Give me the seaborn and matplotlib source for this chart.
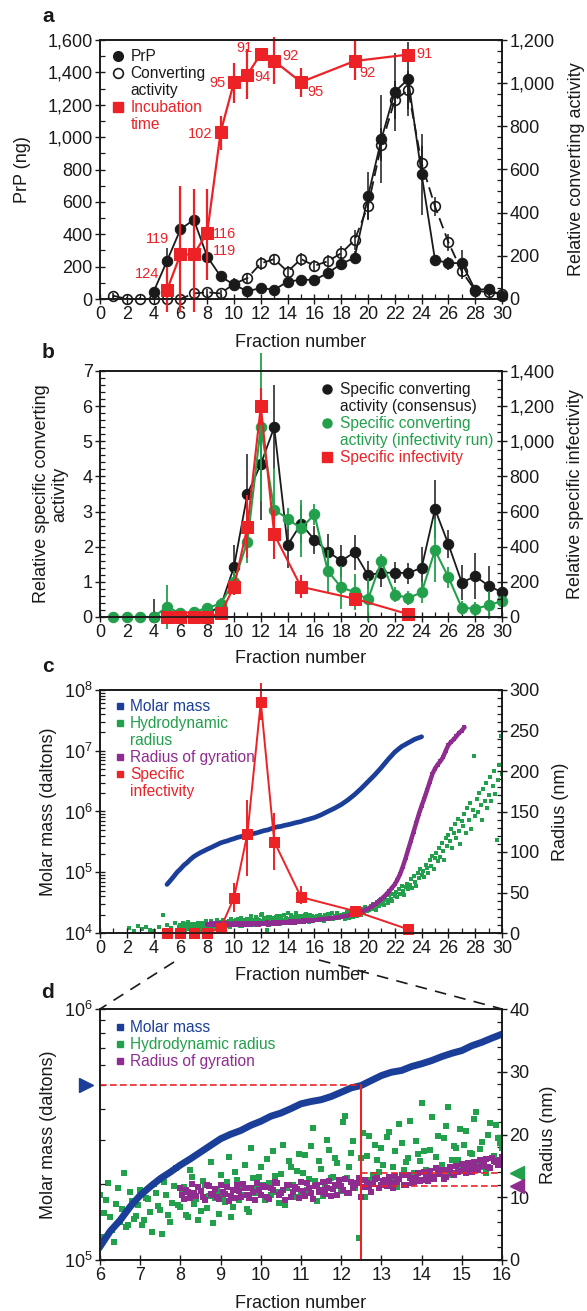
import numpy as np
import pandas as pd
import matplotlib
matplotlib.use('Agg')
import matplotlib.pyplot as plt
import seaborn as sns
from matplotlib.lines import Line2D
from matplotlib.ticker import MultipleLocator, FuncFormatter, FixedLocator, NullFormatter, NullLocator, LogLocator
import matplotlib.transforms as mtransforms

# ---------------- data ----------------
# panel a
frac_a = list(range(1, 31))
prp_ng = [np.nan, np.nan, np.nan, 45, 235, 430, 490, 262, 140, 88, 48, 68, 57, 107, 119, 118, 160, 217, 255,
          635, 988, 1280, 1358, 770, 242, 222, 222, 56, 62, 21]
prp_err = [0, 0, 0, 20, 80, 60, 40, 30, 20, 20, 15, 15, 15, 20, 20, 20, 30, 40, 40,
           150, 270, 240, 230, 250, 30, 40, 80, 20, 15, 10]
conv_act = [15, 0, 0, 0, 0, 0, 26, 31, 26, 70, 97, 165, 185, 127, 185, 154, 175, 212, 273,
            432, 715, 922, 968, 629, 429, 263, 128, 39, 31, 23]
conv_err = [15, 10, 10, 10, 10, 10, 15, 15, 15, 25, 25, 30, 25, 25, 30, 25, 30, 35, 45,
            60, 75, 90, 90, 80, 45, 40, 35, 15, 15, 10]
inc_frac = [5, 6, 7, 8, 9, 10, 11, 12, 13, 15, 19, 23]
inc_pos = [55, 275, 275, 410, 1030, 1340, 1385, 1515, 1470, 1340, 1470, 1510]
inc_lo = [135, 355, 355, 290, 110, 130, 150, 0, 140, 90, 120, 0]
inc_hi = [145, 425, 405, 270, 100, 120, 160, 0, 150, 90, 130, 0]
inc_days = ['124', '119', '119', '116', '102', '95', '94', '91', '92', '95', '92', '91']
inc_lab_x = [3.5, 4.3, 9.3, 9.3, 7.5, 8.8, 12.1, 10.75, 14.2, 16.1, 20.0, 24.2]
inc_lab_y = [155, 370, 295, 400, 1022, 1337, 1372, 1553, 1502, 1276, 1399, 1512]

# panel b
frac_b_cons = list(range(4, 31))
spec_cons = [0, 0, 0, 0.05, 0.1, 0.3, 1.43, 3.5, 4.35, 5.4, 2.05, 2.65, 2.2, 1.86, 1.6, 1.84, 1.19, 1.26, 1.26,
             1.25, 1.4, 3.07, 2.07, 0.98, 1.16, 0.89, 0.7]
spec_cons_err = [0.5, 0, 0, 0, 0, 0.1, 0.62, 1.15, 1.6, 1.2, 0.65, 0.55, 0.4, 0.5, 0.45, 0.5, 0.4, 0.4, 0.3,
                 0.3, 0.6, 0.82, 0.4, 0.5, 0.65, 0.55, 0.3]
frac_b_inf = list(range(1, 31))
spec_infrun = [0, 0, 0, 0, 0.29, 0.1, 0.14, 0.26, 0.38, 1.0, 2.14, 5.41, 3.05, 2.8, 2.52, 2.92, 1.31, 0.84, 0.71,
               0.5, 1.59, 0.64, 0.54, 0.7, 1.9, 1.13, 0.26, 0.24, 0.33, 0.46]
spec_infrun_err = [0, 0, 0, 0, 0.62, 0, 0, 0.1, 0.15, 0.3, 0.6, 2.1, 1.2, 0.3, 0.8, 0.3, 0.6, 0.6, 0.5,
                   0.6, 0.2, 0.2, 0.2, 0.3, 0.9, 0.3, 0.2, 0.2, 0.4, 0.2]
sinf_frac = [5, 6, 7, 8, 9, 10, 11, 12, 13, 15, 19, 23]
sinf_b = [0, 0, 0, 0, 20, 172, 514, 1200, 470, 172, 104, 16]
sinf_b_err = [0, 0, 0, 0, 0, 45, 180, 105, 140, 65, 30, 0]

# panel c / d  (MALS slices)
inf_c_val = [1.0e4, 1.0e4, 1.0e4, 1.0e4, 1.2e4, 3.8e4, 4.3e5, 6.4e7, 3.2e5, 3.9e4, 2.3e4, 1.15e4]
inf_c_lo = [1.0e4, 1.0e4, 1.0e4, 1.0e4, 1.2e4, 2.2e4, 8.6e4, 3.2e7, 1.1e5, 3.0e4, 2.3e4, 1.15e4]
inf_c_hi = [1.0e4, 1.0e4, 1.0e4, 1.0e4, 1.2e4, 6.7e4, 1.55e6, 1.3e8, 9.4e5, 5.9e4, 2.3e4, 1.15e4]

mm_early_frac = [5.0, 5.25, 5.5, 5.75]
mm_early = [6.3e4, 7.3e4, 8.5e4, 1.0e5]
mm_mid = [1.13e5, 1.30e5, 1.44e5, 1.63e5, 1.81e5, 1.96e5, 2.11e5, 2.24e5, 2.39e5, 2.53e5,
          2.69e5, 2.86e5, 3.04e5, 3.17e5, 3.28e5, 3.44e5, 3.57e5, 3.74e5, 3.85e5, 4.01e5,
          4.19e5, 4.28e5, 4.35e5, 4.48e5, 4.66e5, 4.85e5, 4.96e5, 5.19e5, 5.43e5, 5.60e5,
          5.69e5, 5.90e5, 6.05e5, 6.23e5, 6.46e5, 6.66e5, 6.83e5, 7.14e5, 7.37e5, 7.66e5, 7.94e5]
mm_late = [8.8e5, 1.0e6, 1.13e6, 1.3e6, 1.55e6, 1.9e6, 2.4e6, 3.1e6, 4.0e6, 5.3e6, 7.2e6, 9.5e6,
           1.17e7, 1.35e7, 1.55e7, 1.7e7]

rh_early_frac = [2.2, 2.5, 2.8, 3.1, 3.4, 3.7, 4.0, 4.4, 4.7, 5.0, 5.3, 5.6, 5.9]
rh_early = [6, 3, 9, 5, 8, 4, 2, 7, 22, 10, 6, 12, 8]
rh_pass1 = [10.3, 7.5, 12.2, 4.8, 8.9, 6.1, 13.9, 5.6, 9.4, 7.0,
            11.2, 6.4, 9.8, 4.5, 10.6, 8.0, 12.5, 7.2, 9.1, 14.6,
            8.4, 11.6, 6.9, 13.3, 9.7, 7.8, 12.0, 10.2, 5.9, 11.0,
            13.6, 9.2, 16.4, 8.5, 12.8, 10.4, 15.1, 7.7, 13.0, 11.4,
            14.9, 9.6, 12.2, 17.3, 10.8, 13.7, 8.8, 15.8, 11.9, 14.2,
            10.5, 16.7, 12.9, 21.0, 9.4, 14.5, 11.6, 17.6, 13.2, 15.4,
            11.0, 23.0, 14.8, 18.9, 12.3, 16.2, 10.1, 19.7, 13.5, 15.9,
            17.8, 12.4, 20.4, 14.9, 11.7, 18.6, 15.6, 22.1, 13.8, 16.9,
            25.0, 14.3, 17.5, 12.9, 19.8, 15.2, 21.3, 13.6, 18.2, 16.0,
            14.7, 20.6, 17.1, 22.4, 15.5, 18.8, 13.9, 21.9, 16.6, 19.4,
            17.9]
rh_pass2 = [3.7, 9.6, 6.8, 2.9, 11.4, 8.2, 5.2, 10.8, 6.6, 8.7,
            5.5, 9.9, 7.6, 12.1, 8.6, 4.2, 10.4, 6.0, 11.8, 8.8,
            10.9, 7.1, 14.4, 9.0, 6.3, 12.6, 8.3, 15.6, 9.9, 7.4,
            10.1, 12.4, 6.8, 14.0, 9.5, 11.7, 8.1, 17.8, 10.6, 13.2,
            12.0, 16.1, 10.3, 13.4, 9.1, 18.4, 11.5, 14.8, 10.0, 16.9,
            13.9, 11.2, 18.1, 12.6, 15.8, 10.2, 19.2, 13.0, 16.3, 11.8,
            22.0, 13.1, 17.0, 11.4, 3.5, 20.3, 16.6, 12.7, 18.4, 14.1,
            15.2, 19.6, 13.3, 17.4, 21.6, 14.4, 16.3, 12.5, 19.0, 15.7,
            17.3, 13.8, 22.8, 16.4, 14.6, 19.5, 24.4, 15.9, 17.8, 20.9,
            18.3, 15.1, 16.9, 23.6, 17.7, 14.8, 19.9, 16.2, 21.5, 18.6]
rh_late = [15.5, 20.8, 17.9, 22.4, 16.3, 19.6, 14.9, 21.7, 18.5, 23.0,
           17.2, 20.1, 24.3, 16.8, 21.5, 19.0, 25.1, 18.0, 22.6, 20.4,
           19.3, 23.8, 17.7, 25.6, 21.0, 18.9, 26.4, 22.2, 20.0, 27.3,
           23.1, 20.6, 28.0, 25.2, 21.9, 29.4, 24.5, 31.6, 26.8, 30.2,
           27.9, 33.5, 29.3, 36.0, 31.2, 28.4, 37.8, 33.1, 40.5, 35.7,
           38.9, 34.6, 43.0, 40.2, 37.1, 46.3, 41.8, 39.0, 48.7, 45.1,
           50.2, 44.6, 53.9, 47.8, 58.1, 51.5, 46.9, 56.4, 61.0, 54.7,
           59.8, 66.5, 55.3, 70.2, 63.1, 58.6, 74.0, 67.4, 79.5, 71.9,
           76.8, 69.0, 84.2, 80.1, 73.5, 89.6, 83.0, 95.4, 78.9, 92.7,
           98.2, 88.5, 105.1, 94.0, 111.6, 101.7, 90.2, 116.9, 107.3, 121.5,
           113.0, 128.4, 104.6, 123.7, 134.9, 117.2, 141.0, 125.8, 110.4, 138.6,
           131.5, 147.3, 122.9, 154.8, 139.1, 160.2, 128.7, 151.4, 219.0, 144.6,
           166.0, 149.8, 172.5, 158.3, 139.9, 178.1, 162.7, 185.6, 154.0, 170.9,
           192.4, 163.2, 181.0, 199.7, 171.6, 115.0, 188.3, 207.5, 243.0, 196.1]
rg_pass1 = [11.5, 9.8, 10.9, 12.1, 10.2, 11.0, 9.6, 11.8, 10.4, 10.0,
            11.9, 10.5, 9.4, 11.2, 12.0, 10.1, 11.4, 9.9, 10.8, 12.3,
            10.3, 11.6, 9.7, 11.1, 12.2, 10.6, 9.5, 11.9, 10.9, 11.3,
            12.4, 10.2, 11.5, 9.8, 12.0, 11.1, 10.5, 12.6, 11.3, 10.4,
            11.8, 12.9, 10.7, 11.5, 12.3, 10.0, 12.7, 11.6, 12.1, 13.0,
            11.9, 12.8, 13.3, 11.4, 12.5, 13.6, 12.0, 13.1, 12.4, 13.8,
            12.7, 13.5, 14.2, 12.9, 13.9, 14.4, 13.2, 14.8, 13.6, 14.1,
            15.3, 13.9, 14.6, 15.6, 14.3, 15.0, 16.1, 14.7, 15.8, 15.2,
            16.4]
rg_pass2 = [10.3, 11.2, 9.9, 10.7, 11.6, 10.1, 12.0, 10.5, 11.3, 9.7,
            10.8, 11.7, 10.2, 9.9, 11.0, 12.1, 10.4, 11.5, 9.6, 11.1,
            11.8, 10.0, 11.4, 12.5, 10.3, 11.2, 12.0, 10.1, 11.7, 9.9,
            11.0, 12.2, 10.6, 11.8, 10.9, 12.5, 11.4, 10.2, 11.9, 12.7,
            11.2, 10.6, 12.4, 11.9, 13.1, 11.7, 12.2, 10.8, 12.9, 11.5,
            12.6, 11.8, 12.2, 13.4, 12.9, 11.9, 13.5, 12.3, 13.0, 12.6,
            14.0, 12.6, 13.3, 14.6, 13.7, 12.9, 14.3, 13.8, 15.0, 14.2,
            14.5, 15.5, 14.0, 14.9, 15.9, 15.4, 14.8, 16.3, 15.6, 16.0]
rg_late = [16.5, 16.7, 17.1, 17.4, 17.8, 18.2, 18.6, 19.1, 19.5, 20.0,
           20.6, 21.2, 22.0, 22.8, 23.8, 24.9, 26.0, 27.3, 28.7, 30.2,
           32.0, 34.0, 36.3, 39.0, 42.0, 45.0, 48.5, 52.0, 56.0, 60.0,
           66, 73, 82, 92, 103, 114, 125, 136, 147, 157,
           166, 176, 186, 196, 203, 208, 212, 217, 225, 232,
           236, 239, 243, 247, 250, 254]

frac_mark = 12.5
mm_mark = 4.96e5
rh_mark = 13.9
rg_mark = 11.8


def slices(start, step, values):
    """fraction positions of consecutive detector slices"""
    return list(np.round(start + step * np.arange(len(values)), 3))


mm_frac = mm_early_frac + slices(6.0, 0.25, mm_mid) + slices(16.5, 0.5, mm_late)
mm_val = mm_early + mm_mid + mm_late
rh_frac = rh_early_frac + slices(6.0, 0.1, rh_pass1) + slices(6.05, 0.1, rh_pass2) + slices(16.1, 0.1, rh_late)
rh_val = rh_early + rh_pass1 + rh_pass2 + rh_late
rg_late_frac = slices(16.2, 0.2, rg_late)
rg_frac = slices(8.0, 0.1, rg_pass1) + slices(8.05, 0.1, rg_pass2) + rg_late_frac
rg_val = rg_pass1 + rg_pass2 + rg_late

# ---------------- style ----------------
sns.set_theme(style='ticks')
plt.rcParams['font.family'] = ['Liberation Sans', 'DejaVu Sans']
plt.rcParams['mathtext.fontset'] = 'custom'
plt.rcParams['mathtext.rm'] = 'Liberation Sans'
plt.rcParams['mathtext.default'] = 'regular'

INK = '#1a1a1a'
RED = '#ec2227'
GREEN = '#22a04b'
BLUE = '#1b3f98'
PURPLE = '#8e2c8f'
TICK = 13
LAB = 13
LEG = 11.2

fig = plt.figure(figsize=(5.87, 13.11), dpi=100)
L, W = 100 / 587, 402 / 587


def style_axes(ax, ax2):
    for a in (ax, ax2):
        a.tick_params(which='major', direction='inout', length=7.5, width=1.0, labelsize=TICK, color=INK,
                      labelcolor=INK, pad=1.5)
        a.tick_params(which='minor', direction='in', length=3.5, width=0.9, color=INK)
        for s in a.spines.values():
            s.set_linewidth(1.2)
            s.set_color(INK)
    ax.tick_params(axis='y', which='both', left=True, right=False)
    ax.tick_params(axis='x', which='both', bottom=True, top=False)
    ax2.tick_params(axis='y', which='both', left=False, right=True)


def legend(ax, entries, anchor, hl=0.8):
    handles, labels, colors = [], [], []
    for lab, col, h in entries:
        if h is None:
            h = Line2D([], [], ls='none', marker='None')
        handles.append(h)
        labels.append(lab)
        colors.append(col)
    leg = ax.legend(handles, labels, loc='upper left', bbox_to_anchor=anchor, frameon=False, borderpad=0,
                    borderaxespad=0, handlelength=hl, handletextpad=0.4, labelspacing=0.13, fontsize=LEG)
    for t, c in zip(leg.get_texts(), colors):
        t.set_color(c)
    return leg


comma = FuncFormatter(lambda v, p: f'{v:,.0f}')

# ================= panel a =================
axa = fig.add_axes([L, 1 - 299 / 1311, W, 259 / 1311])
axa2 = axa.twinx()
axa.set_zorder(axa2.get_zorder() + 1)
axa.patch.set_visible(False)

df_conv = pd.DataFrame({'Fraction': frac_a, 'Conv': conv_act})
axa2.errorbar(frac_a, conv_act, yerr=conv_err, fmt='none', ecolor=INK, elinewidth=1.1)
sns.lineplot(data=df_conv, x='Fraction', y='Conv', ax=axa2, estimator=None, errorbar=None, sort=False,
             color=INK, linewidth=1.3, linestyle=(0, (6, 3)), marker='o', markersize=7,
             markerfacecolor='none', markeredgecolor=INK, markeredgewidth=1.2, clip_on=False)

df_prp = pd.DataFrame({'Fraction': frac_a, 'PrP': prp_ng, 'err': prp_err}).dropna()
axa.errorbar(df_prp['Fraction'], df_prp['PrP'], yerr=df_prp['err'], fmt='none', ecolor=INK, elinewidth=1.1)
sns.lineplot(data=df_prp, x='Fraction', y='PrP', ax=axa, estimator=None, errorbar=None, sort=False,
             color=INK, linewidth=1.3, marker='o', markersize=7.5, markerfacecolor=INK,
             markeredgecolor=INK, clip_on=False)

df_inc = pd.DataFrame({'Fraction': inc_frac, 'Inc': inc_pos})
axa.errorbar(inc_frac, inc_pos, yerr=[inc_lo, inc_hi], fmt='none', ecolor=RED, elinewidth=1.6, clip_on=False)
sns.lineplot(data=df_inc, x='Fraction', y='Inc', ax=axa, estimator=None, errorbar=None, sort=False,
             color=RED, linewidth=1.6, marker='s', markersize=8.5, markerfacecolor=RED,
             markeredgecolor=RED, clip_on=False)
for x, y, s in zip(inc_lab_x, inc_lab_y, inc_days):
    axa.text(x, y, s, color=RED, fontsize=10.5, ha='center', va='center')

axa.set_xlim(0, 30)
axa.set_ylim(0, 1600)
axa2.set_ylim(0, 1200)
axa.set_xticks(range(0, 31, 2))
axa.xaxis.set_minor_locator(MultipleLocator(1))
axa.yaxis.set_major_locator(MultipleLocator(200))
axa.yaxis.set_minor_locator(MultipleLocator(100))
axa2.yaxis.set_major_locator(MultipleLocator(200))
axa2.yaxis.set_minor_locator(MultipleLocator(50))
axa.yaxis.set_major_formatter(comma)
axa2.yaxis.set_major_formatter(comma)
style_axes(axa, axa2)
axa.set_xlabel('Fraction number', fontsize=LAB, color=INK)
axa.xaxis.set_label_coords(0.5, -0.135)
axa.set_ylabel('PrP (ng)', fontsize=LAB, color=INK)
axa.yaxis.set_label_coords(-0.172, 0.5)
axa2.set_ylabel('Relative converting activity', fontsize=LAB, color=INK)
axa2.yaxis.set_label_coords(1.165, 0.5)
legend(axa, [('PrP', INK, Line2D([], [], ls='none', marker='o', ms=7, color=INK)),
             ('Converting', INK, Line2D([], [], ls='none', marker='o', ms=7, mfc='none', mec=INK, mew=1.2)),
             ('activity', INK, None),
             ('Incubation', RED, Line2D([], [], ls='none', marker='s', ms=7.5, color=RED)),
             ('time', RED, None)], (0.03, 0.965))

# ================= panel b =================
axb = fig.add_axes([L, 1 - 617 / 1311, W, 246 / 1311])
axb2 = axb.twinx()

df_cons = pd.DataFrame({'Fraction': frac_b_cons, 'v': spec_cons})
axb.errorbar(frac_b_cons, spec_cons, yerr=spec_cons_err, fmt='none', ecolor=INK, elinewidth=1.1)
sns.lineplot(data=df_cons, x='Fraction', y='v', ax=axb, estimator=None, errorbar=None, sort=False,
             color=INK, linewidth=1.3, marker='o', markersize=7.5, markerfacecolor=INK,
             markeredgecolor=INK, clip_on=False)
df_infrun = pd.DataFrame({'Fraction': frac_b_inf, 'v': spec_infrun})
axb.errorbar(frac_b_inf, spec_infrun, yerr=spec_infrun_err, fmt='none', ecolor=GREEN, elinewidth=1.3,
             clip_on=False)
sns.lineplot(data=df_infrun, x='Fraction', y='v', ax=axb, estimator=None, errorbar=None, sort=False,
             color=GREEN, linewidth=1.5, marker='o', markersize=7.5, markerfacecolor=GREEN,
             markeredgecolor=GREEN, clip_on=False)
df_sinf = pd.DataFrame({'Fraction': sinf_frac, 'v': sinf_b})
axb2.errorbar(sinf_frac, sinf_b, yerr=sinf_b_err, fmt='none', ecolor=RED, elinewidth=1.5, clip_on=False)
sns.lineplot(data=df_sinf, x='Fraction', y='v', ax=axb2, estimator=None, errorbar=None, sort=False,
             color=RED, linewidth=1.5, marker='s', markersize=8, markerfacecolor=RED,
             markeredgecolor=RED, clip_on=False)

axb.set_xlim(0, 30)
axb.set_ylim(0, 7)
axb2.set_ylim(0, 1400)
axb.set_xticks(range(0, 31, 2))
axb.xaxis.set_minor_locator(MultipleLocator(1))
axb.yaxis.set_major_locator(MultipleLocator(1))
axb.yaxis.set_minor_locator(MultipleLocator(0.2))
axb2.yaxis.set_major_locator(MultipleLocator(200))
axb2.yaxis.set_minor_locator(MultipleLocator(50))
axb2.yaxis.set_major_formatter(comma)
style_axes(axb, axb2)
axb.set_xlabel('Fraction number', fontsize=LAB, color=INK)
axb.xaxis.set_label_coords(0.5, -0.134)
axb.set_ylabel('Relative specific converting\nactivity', fontsize=LAB, color=INK, linespacing=1.05)
axb.yaxis.set_label_coords(-0.08, 0.5)
axb2.set_ylabel('Relative specific infectivity', fontsize=LAB, color=INK)
axb2.yaxis.set_label_coords(1.162, 0.5)
legend(axb2, [('Specific converting', INK, Line2D([], [], ls='none', marker='o', ms=6.5, color=INK)),
              ('activity (consensus)', INK, None),
              ('Specific converting', GREEN, Line2D([], [], ls='none', marker='o', ms=6.5, color=GREEN)),
              ('activity (infectivity run)', GREEN, None),
              ('Specific infectivity', RED, Line2D([], [], ls='none', marker='s', ms=6.5, color=RED))],
       (0.55, 0.955))

# ================= panel c =================
axc = fig.add_axes([L, 1 - 933 / 1311, W, 243 / 1311])
axc2 = axc.twinx()
axc.set_zorder(axc2.get_zorder() + 1)
axc.patch.set_visible(False)

df_rh = pd.DataFrame({'Fraction': rh_frac, 'r': rh_val})
df_rg = pd.DataFrame({'Fraction': rg_frac, 'r': rg_val})
df_rg_late = pd.DataFrame({'Fraction': rg_late_frac, 'r': rg_late})
df_mm = pd.DataFrame({'Fraction': mm_frac, 'M': mm_val})
sns.scatterplot(data=df_rh, x='Fraction', y='r', ax=axc2, marker='s', s=10, color=GREEN, linewidth=0)
sns.lineplot(data=df_rg_late, x='Fraction', y='r', ax=axc2, estimator=None, errorbar=None, sort=False,
             color=PURPLE, linewidth=3.2)
sns.scatterplot(data=df_rg, x='Fraction', y='r', ax=axc2, marker='s', s=10, color=PURPLE, linewidth=0)
sns.lineplot(data=df_mm, x='Fraction', y='M', ax=axc, estimator=None, errorbar=None, sort=False,
             color=BLUE, linewidth=3.4)
inf_c_err = [np.array(inf_c_val) - np.array(inf_c_lo), np.array(inf_c_hi) - np.array(inf_c_val)]
axc.errorbar(sinf_frac, inf_c_val, yerr=inf_c_err, fmt='none', ecolor=RED, elinewidth=1.4, clip_on=False)
df_infc = pd.DataFrame({'Fraction': sinf_frac, 'v': inf_c_val})
sns.lineplot(data=df_infc, x='Fraction', y='v', ax=axc, estimator=None, errorbar=None, sort=False,
             color=RED, linewidth=1.4, marker='s', markersize=7.5, markerfacecolor=RED,
             markeredgecolor=RED, clip_on=False)

axc.set_yscale('log')
axc.set_xlim(0, 30)
axc.set_ylim(1e4, 1e8)
axc2.set_ylim(0, 300)
axc.set_xticks(range(0, 31, 2))
axc.xaxis.set_minor_locator(MultipleLocator(1))
axc.yaxis.set_major_locator(FixedLocator([1e4, 1e5, 1e6, 1e7, 1e8]))
axc.yaxis.set_minor_locator(LogLocator(base=10, subs=np.arange(2, 10)))
axc.yaxis.set_minor_formatter(NullFormatter())
axc2.yaxis.set_major_locator(MultipleLocator(50))
axc2.yaxis.set_minor_locator(MultipleLocator(10))
style_axes(axc, axc2)
axc.set_xlabel('Fraction number', fontsize=LAB, color=INK)
axc.xaxis.set_label_coords(0.5, -0.14)
axc.set_ylabel('Molar mass (daltons)', fontsize=LAB, color=INK)
axc.yaxis.set_label_coords(-0.107, 0.5)
axc2.set_ylabel('Radius (nm)', fontsize=LAB, color=INK)
axc2.yaxis.set_label_coords(1.124, 0.5)
sq = lambda c: Line2D([], [], ls='none', marker='s', ms=4, color=c)
legend(axc, [('Molar mass', BLUE, sq(BLUE)), ('Hydrodynamic', GREEN, sq(GREEN)), ('radius', GREEN, None),
             ('Radius of gyration', PURPLE, sq(PURPLE)), ('Specific', RED, sq(RED)),
             ('infectivity', RED, None)], (0.04, 0.963), hl=0.5)

# ================= panel d =================
axd = fig.add_axes([L, 1 - 1260 / 1311, W, 251 / 1311])
axd2 = axd.twinx()
axd.set_zorder(axd2.get_zorder() + 1)
axd.patch.set_visible(False)

sns.scatterplot(data=df_rh, x='Fraction', y='r', ax=axd2, marker='s', s=15, color=GREEN, linewidth=0)
sns.scatterplot(data=df_rg, x='Fraction', y='r', ax=axd2, marker='s', s=18, color=PURPLE, linewidth=0)
sns.lineplot(data=df_mm, x='Fraction', y='M', ax=axd, estimator=None, errorbar=None, sort=False,
             color=BLUE, linewidth=5)
axd.hlines(mm_mark, 6, frac_mark, colors=RED, linestyles=(0, (4, 2)), linewidth=1.2)
axd.vlines(frac_mark, 1e5, mm_mark, colors=RED, linewidth=1.5)
axd2.hlines([rh_mark, rg_mark], frac_mark, 16, colors=RED, linestyles=(0, (4, 2)), linewidth=1.2)
trd = mtransforms.blended_transform_factory(axd.transAxes, axd.transData)
trd2 = mtransforms.blended_transform_factory(axd2.transAxes, axd2.transData)
axd.plot([-0.035], [mm_mark], marker='>', ms=10, color=BLUE, ls='none', transform=trd, clip_on=False)
axd2.plot([1.037], [rh_mark], marker='<', ms=10, color=GREEN, ls='none', transform=trd2, clip_on=False)
axd2.plot([1.037], [rg_mark], marker='<', ms=10, color=PURPLE, ls='none', transform=trd2, clip_on=False)

axd.set_yscale('log')
axd.set_xlim(6, 16)
axd.set_ylim(1e5, 1e6)
axd2.set_ylim(0, 40)
axd.set_xticks(range(6, 17))
axd.xaxis.set_minor_locator(NullLocator())
axd.yaxis.set_major_locator(FixedLocator([1e5, 1e6]))
axd.yaxis.set_minor_locator(FixedLocator([k * 1e5 for k in range(2, 10)]))
axd.yaxis.set_minor_formatter(NullFormatter())
axd2.yaxis.set_major_locator(MultipleLocator(10))
axd2.yaxis.set_minor_locator(MultipleLocator(2))
style_axes(axd, axd2)
axd.set_xlabel('Fraction number', fontsize=LAB, color=INK)
axd.xaxis.set_label_coords(0.5, -0.139)
axd.set_ylabel('Molar mass (daltons)', fontsize=LAB, color=INK)
axd.yaxis.set_label_coords(-0.107, 0.5)
axd2.set_ylabel('Radius (nm)', fontsize=LAB, color=INK)
axd2.yaxis.set_label_coords(1.095, 0.5)
legend(axd, [('Molar mass', BLUE, sq(BLUE)), ('Hydrodynamic radius', GREEN, sq(GREEN)),
             ('Radius of gyration', PURPLE, sq(PURPLE))], (0.04, 0.956), hl=0.5)

# zoom connector lines (panel c -> panel d)
H = 1311.0
d_top = 1 - 1009 / H
fig.add_artist(Line2D([174 / 587, L], [1 - 962 / H, d_top], transform=fig.transFigure, color=INK,
                      lw=1.2, ls=(0, (7, 5)), zorder=0))
fig.add_artist(Line2D([319 / 587, L + W], [1 - 960 / H, d_top], transform=fig.transFigure, color=INK,
                      lw=1.2, ls=(0, (7, 5)), zorder=0))

# panel letters
for lab, ypx in [('a', 17), ('b', 353), ('c', 667), ('d', 993)]:
    fig.text(48 / 587, 1 - ypx / H, lab, fontsize=15, fontweight='bold', ha='center', va='center', color=INK)

fig.savefig('out.png', dpi=100)
